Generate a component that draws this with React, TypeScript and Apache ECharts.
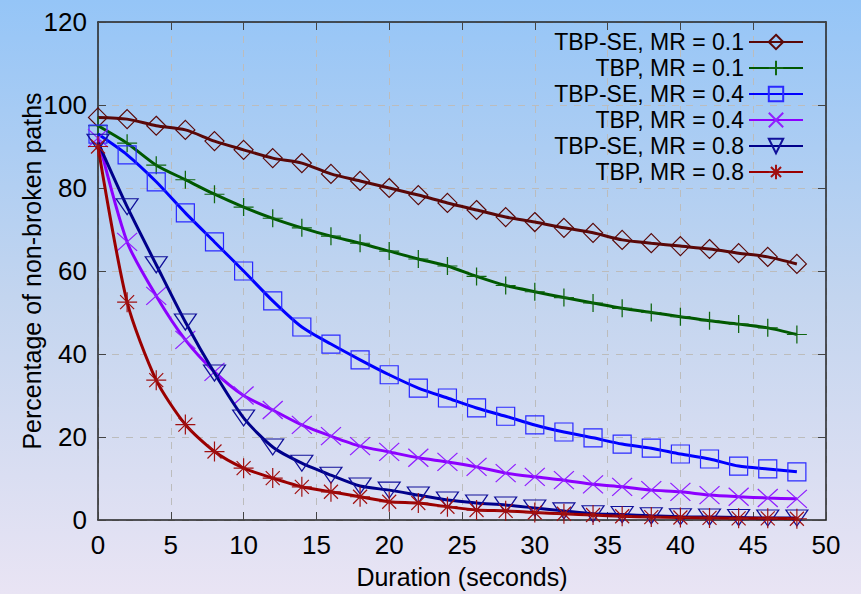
import React, { useEffect, useRef } from "react";
import * as echarts from "echarts";

const durations = [0, 2, 4, 6, 8, 10, 12, 14, 16, 18, 20, 22, 24, 26, 28, 30, 32, 34, 36, 38, 40, 42, 44, 46, 48];

const tbpSe01 = [97, 96.6, 95, 94, 91.3, 89.2, 87.2, 86, 83.4, 81.7, 80, 78.3, 76.4, 74.7, 73, 71.8, 70.4, 69.2, 67.5, 66.7, 66, 65.3, 64.3, 63.4, 61.7];
const tbp01 = [95, 90.8, 85.5, 82, 78.5, 75.4, 72.7, 70.4, 68.4, 66.7, 64.8, 62.9, 61.2, 58.7, 56.5, 55, 53.6, 52.3, 51, 50, 49, 48, 47.2, 46.3, 44.7];
const tbpSe04 = [93, 88, 81.5, 74, 67, 60, 52.8, 46.5, 42.4, 38.6, 35, 31.8, 29.4, 27, 25, 22.9, 21.2, 19.8, 18.3, 17.3, 15.9, 14.7, 13, 12.3, 11.6];
const tbp04 = [92, 67, 54, 43.4, 35.7, 30, 26.5, 22.9, 20.2, 17.8, 16.4, 15, 14, 12.8, 11.3, 10.4, 9.6, 8.6, 8, 7.2, 6.8, 6, 5.6, 5.3, 5.1];
const tbpSe08 = [91, 75.5, 61.5, 47.7, 35.4, 24.6, 17.6, 13.7, 10.8, 8.2, 7.2, 6, 4.8, 4.1, 3.6, 2.9, 2.2, 1.5, 1.3, 1, 0.8, 0.7, 0.6, 0.5, 0.5];
const tbp08 = [90, 52.5, 33.7, 23, 16.5, 12.5, 10.1, 8, 6.8, 5.6, 4.4, 4.1, 3.2, 2.4, 2.2, 1.8, 1.5, 1.2, 0.9, 0.7, 0.6, 0.5, 0.4, 0.4, 0.3];

const seriesNames = [
  "TBP-SE, MR = 0.1",
  "TBP, MR = 0.1",
  "TBP-SE, MR = 0.4",
  "TBP, MR = 0.4",
  "TBP-SE, MR = 0.8",
  "TBP, MR = 0.8",
];
const seriesValues = [tbpSe01, tbp01, tbpSe04, tbp04, tbpSe08, tbp08];
const lineColors = ["#5a0808", "#005800", "#0000ff", "#8c00ff", "#00008b", "#9a0000"];
const markerColors = ["#5a0808", "#106610", "#2a2aff", "#9020ff", "#10109a", "#a01010"];
const symbols = [
  "diamond",
  "path://M10,0L10,20M0,10L20,10",
  "rect",
  "path://M0,0L20,20M0,20L20,0",
  "path://M0,0L20,0L10,17Z",
  "path://M10,0L10,20M0,10L20,10M3,3L17,17M3,17L17,3",
];
const symbolSizes: any[] = [[19, 19], [20, 18], [18, 18], [20, 18], [22, 16], [20, 20]];

const xTicks = { min: 0, max: 50, interval: 5 };
const yTicks = { min: 0, max: 120, interval: 20 };

export default function App() {
  const ref = useRef<HTMLDivElement>(null);
  useEffect(() => {
    document.body.style.margin = "0";
    const chart = echarts.init(ref.current!, undefined, { renderer: "svg" });
    const font = "Liberation Sans, Arial, sans-serif";
    const series: any[] = seriesValues.map((vals, i) => ({
      name: seriesNames[i],
      type: "line",
      smooth: 0.25,
      data: durations.map((d, j) => [d, vals[j]]),
      symbol: symbols[i],
      symbolSize: symbolSizes[i],
      showAllSymbol: true,
      lineStyle: { color: lineColors[i], width: 3 },
      itemStyle: { color: "rgba(0,0,0,0)", borderColor: markerColors[i], borderWidth: 1.2 },
      z: 2 + i,
    }));
    chart.setOption({
      animation: false,
      grid: { left: 98, right: 35, top: 22, bottom: 74, outerBoundsMode: "none", containLabel: false },
      legend: {
        orient: "vertical",
        right: 52,
        top: 24,
        align: "right",
        itemWidth: 54,
        itemHeight: 18,
        itemGap: 0,
        data: seriesNames,
        textStyle: { fontFamily: font, fontSize: 23, color: "#000", lineHeight: 26 },
      },
      xAxis: [
        {
          type: "value",
          ...xTicks,
          name: "Duration (seconds)",
          nameLocation: "middle",
          nameGap: 44,
          nameMoveOverlap: false,
          nameTextStyle: { fontFamily: font, fontSize: 25, color: "#000" },
          axisLine: { show: true, onZero: false, lineStyle: { color: "#222", width: 1.5 } },
          axisTick: { show: true, inside: true, length: 8, lineStyle: { color: "#444" } },
          axisLabel: { fontFamily: font, fontSize: 26, color: "#000", margin: 12 },
          splitLine: { show: true, lineStyle: { color: "#bcbcbc", type: [7, 7], width: 1 } },
        },
        {
          type: "value",
          position: "top",
          ...xTicks,
          axisLine: { show: true, onZero: false, lineStyle: { color: "#222", width: 1.5 } },
          axisTick: { show: true, inside: true, length: 8, lineStyle: { color: "#444" } },
          axisLabel: { show: false },
          splitLine: { show: false },
        },
      ],
      yAxis: [
        {
          type: "value",
          ...yTicks,
          name: "Percentage of non-broken paths",
          nameLocation: "middle",
          nameGap: 54,
          nameMoveOverlap: false,
          nameTextStyle: { fontFamily: font, fontSize: 25, color: "#000" },
          axisLine: { show: true, onZero: false, lineStyle: { color: "#222", width: 1.5 } },
          axisTick: { show: true, inside: true, length: 8, lineStyle: { color: "#444" } },
          axisLabel: { fontFamily: font, fontSize: 26, color: "#000", margin: 11 },
          splitLine: { show: true, lineStyle: { color: "#bcbcbc", type: [7, 7], width: 1 } },
        },
        {
          type: "value",
          position: "right",
          ...yTicks,
          axisLine: { show: true, onZero: false, lineStyle: { color: "#222", width: 1.5 } },
          axisTick: { show: true, inside: true, length: 8, lineStyle: { color: "#444" } },
          axisLabel: { show: false },
          splitLine: { show: false },
        },
      ],
      series,
    });
    return () => chart.dispose();
  }, []);
  return (
    <div
      ref={ref}
      style={{
        position: "absolute",
        left: 0,
        top: 0,
        width: 861,
        height: 594,
        background: "linear-gradient(180deg, #95c5f7 0%, #c3d5ef 50%, #e9e4f4 100%)",
      }}
    />
  );
}
